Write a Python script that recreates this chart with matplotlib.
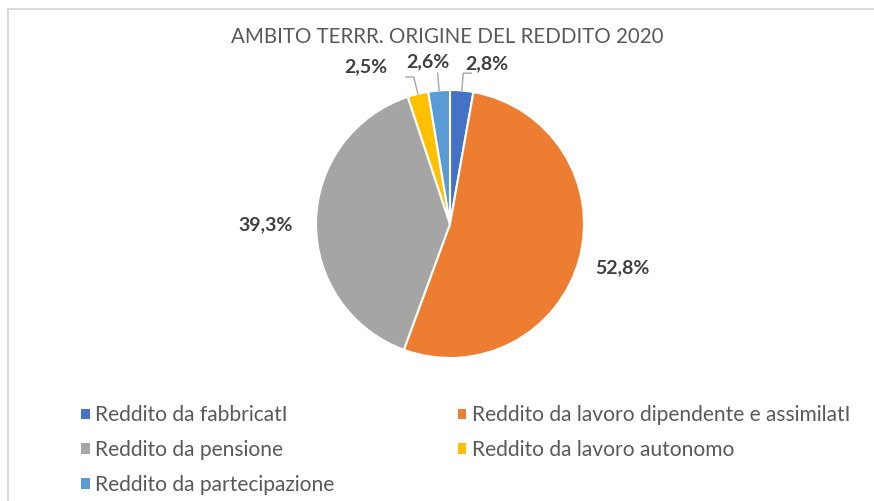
import numpy as np
import matplotlib
matplotlib.use("Agg")
import matplotlib.pyplot as plt
from matplotlib.patches import Patch

title = "AMBITO TERRR. ORIGINE DEL REDDITO 2020"
categories = ["Reddito da fabbricatI",
              "Reddito da lavoro dipendente e assimilatI",
              "Reddito da pensione",
              "Reddito da lavoro autonomo",
              "Reddito da partecipazione"]
values = [2.8, 52.8, 39.3, 2.5, 2.6]
value_labels = ["2,8%", "52,8%", "39,3%", "2,5%", "2,6%"]

colors = ["#4472C4", "#ED7D31", "#A5A5A5", "#FFC000", "#5B9BD5"]
# label placement (radius factor, angle offset deg) and leader flags
label_r = [1.23, 1.33, 1.38, 1.33, 1.22]
label_dang = [-8.0, 1.0, 1.0, 14.5, 3.0]
leader = [True, False, False, True, True]
leader_dir = [1, 0, 0, -1, 0]

FONT = ["Lato", "DejaVu Sans"]
plt.rcParams['font.family'] = FONT

W, H = 874, 501
fig = plt.figure(figsize=(W / 100, H / 100), dpi=100)
ax = fig.add_axes([0, 0, 1, 1])
ax.set_xlim(0, W)
ax.set_ylim(0, H)
ax.set_aspect('equal')
ax.axis('off')

cx, cy, R = 450, H - 224, 134
wedges, _ = ax.pie(values, colors=colors, startangle=90, counterclock=False,
                   center=(cx, cy), radius=R, frame=True,
                   wedgeprops=dict(edgecolor="white", linewidth=1.5))
ax.set_xlim(0, W)
ax.set_ylim(0, H)
ax.axis('off')

for w, lab, r, da, ld, d in zip(wedges, value_labels, label_r, label_dang, leader, leader_dir):
    mid = np.deg2rad((w.theta1 + w.theta2) / 2)
    ang = mid + np.deg2rad(da)
    tx, ty = cx + R * r * np.cos(ang), cy + R * r * np.sin(ang)
    if ld:
        x0, y0 = cx + R * 1.0 * np.cos(mid), cy + R * 1.0 * np.sin(mid)
        x1, y1 = cx + R * 1.13 * np.cos(mid), cy + R * 1.13 * np.sin(mid)
        xs, ys = [x0, x1], [y0, y1]
        if d != 0:
            xs.append(x1 + d * 8)
            ys.append(y1)
        ax.plot(xs, ys, color="#A6A6A6", lw=1.0, solid_joinstyle="miter")
    ax.text(tx, ty, lab, ha="center", va="center", fontsize=14,
            fontweight="bold", color="#404040")

fig.text(447 / W, 1 - 37 / H, title, ha="center", va="center",
         fontsize=14.8, color="#595959")

handles = [Patch(facecolor=c, edgecolor="none") for c in colors]
order = [0, 2, 4, 1, 3]
leg = fig.legend([handles[i] for i in order], [categories[i] for i in order],
                 ncol=2, loc="upper left", bbox_to_anchor=(73 / W, 1 - 397 / H),
                 frameon=False, fontsize=15.1, labelcolor="#595959",
                 handlelength=0.4, handleheight=0.4, handletextpad=0.25,
                 columnspacing=5.9, labelspacing=0.7, borderaxespad=0)

# outer frame (partially cropped)
ax.plot([7.5, 7.5, W], [0, H - 8.5, H - 8.5], color="#D9D9D9", lw=1.5,
        solid_capstyle="butt")

fig.savefig("out.png", dpi=100, facecolor="white")
